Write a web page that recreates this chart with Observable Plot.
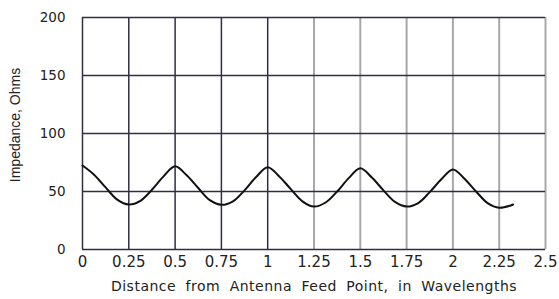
<!DOCTYPE html>
<html>
<head>
<meta charset="utf-8">
<script src="https://cdn.jsdelivr.net/npm/d3@7"></script>
<script src="https://cdn.jsdelivr.net/npm/@observablehq/plot@0.6"></script>
<style>
  html, body { margin: 0; padding: 0; background: #fff; }
</style>
</head>
<body>
<div id="chart"></div>
<script>
// Distance from antenna feed point (wavelengths)
const distance = [
  0, 0.0625, 0.125, 0.1875, 0.25, 0.3125, 0.375, 0.4375,
  0.5, 0.5625, 0.625, 0.6875, 0.75, 0.8125, 0.875, 0.9375,
  1.0, 1.0625, 1.125, 1.1875, 1.25, 1.3125, 1.375, 1.4375,
  1.5, 1.5625, 1.625, 1.6875, 1.75, 1.8125, 1.875, 1.9375,
  2.0, 2.0625, 2.125, 2.1875, 2.25, 2.3125, 2.325
];
// Impedance (ohms)
const impedance = [
  72.4, 64.5, 53.5, 43, 38.8, 42, 51.5, 63,
  71.8, 64, 53, 42.5, 38.5, 41.5, 51, 62.5,
  71, 63, 52, 41.5, 37, 40.5, 50, 61.5,
  70, 62, 51, 41, 37, 40, 49.5, 60.5,
  69, 61, 50, 40, 36, 38, 38.8
];
const xTicks = [0, 0.25, 0.5, 0.75, 1, 1.25, 1.5, 1.75, 2, 2.25, 2.5];
const yTicks = [0, 50, 100, 150, 200];
const xLabel = "Distance from Antenna Feed Point, in Wavelengths";
const yLabel = "Impedance, Ohms";

const curve = distance.map((d, i) => ({x: d, y: impedance[i]}));
const darkCols = xTicks.filter(t => t <= 1);
const grayCols = xTicks.filter(t => t > 1);

const chart = Plot.plot({
  width: 559,
  height: 299,
  marginLeft: 82,
  marginRight: 14,
  marginTop: 17,
  marginBottom: 50,
  x: {domain: [0, 2.5]},
  y: {domain: [0, 200]},
  marks: [
    Plot.ruleX(grayCols, {stroke: "#a8a8a8", strokeWidth: 2}),
    Plot.ruleY(yTicks, {stroke: "#2e2e44", strokeWidth: 1.5}),
    Plot.ruleX(darkCols, {stroke: "#2e2e44", strokeWidth: 1.5}),
    Plot.line(curve, {x: "x", y: "y", curve: "catmull-rom", stroke: "#111", strokeWidth: 2}),
    Plot.axisX({
      ticks: xTicks, tickSize: 0, tickPadding: 7,
      tickFormat: d => String(d),
      fontFamily: "DejaVu Sans", fontSize: 15,
      label: null
    }),
    Plot.axisY({
      ticks: yTicks, tickSize: 0, tickPadding: 17,
      fontFamily: "DejaVu Sans", fontSize: 13.5,
      label: null
    }),
    Plot.text([xLabel], {
      frameAnchor: "bottom", dy: 41, text: d => d, textAnchor: "middle",
      fontFamily: "DejaVu Sans", fontSize: 14, fill: "#222"
    }),
    Plot.text([yLabel], {
      frameAnchor: "left", dx: -67, dy: -8.5, rotate: -90, text: d => d,
      textAnchor: "middle",
      fontFamily: "Liberation Sans", fontSize: 14, fill: "#222"
    })
  ],
  style: {color: "#222", background: "#fff"}
});
d3.select(chart).selectAll("text")
  .filter(function() { return this.textContent === xLabel; })
  .attr("word-spacing", "4.5px")
  .attr("letter-spacing", "0.5px");
document.getElementById("chart").appendChild(chart);
</script>
</body>
</html>
